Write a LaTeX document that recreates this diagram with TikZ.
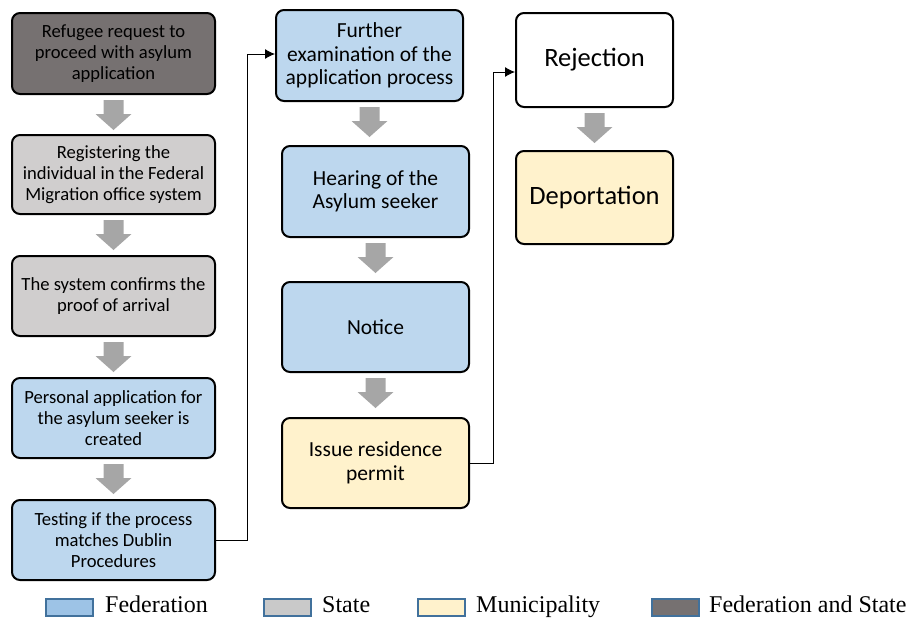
\documentclass[tikz,border=0pt]{standalone}
\usepackage{fontspec}
\setmainfont{Carlito}
\newfontfamily\legendfont{Liberation Serif}
\usetikzlibrary{arrows.meta,calc}

\definecolor{fedstate}{HTML}{767171}
\definecolor{stategray}{HTML}{D0CECE}
\definecolor{fedblue}{HTML}{BDD7EE}
\definecolor{muniyellow}{HTML}{FFF2CC}
\definecolor{flowgray}{HTML}{A6A6A6}
\definecolor{keyborder}{HTML}{41719C}
\definecolor{keyblue}{HTML}{9DC3E6}
\definecolor{keygray}{HTML}{C9C9C9}

\tikzset{
  procbox/.style={draw=black, line width=2pt, rounded corners=8pt,
    align=center, inner sep=2pt},
  colA/.style={procbox, minimum width=203pt, minimum height=80pt,
    font=\fontsize{18.6}{21}\selectfont},
  colB/.style={procbox, minimum width=187pt, minimum height=90pt,
    font=\fontsize{21.5}{23.5}\selectfont},
  colC/.style={procbox, minimum width=157pt, minimum height=93pt,
    font=\fontsize{26.5}{30}\selectfont},
  link/.style={draw=black, line width=1pt, -{Latex[length=10pt,width=10pt]}},
  keybox/.style={draw=keyborder, line width=2pt, minimum width=47pt,
    minimum height=17pt, inner sep=0pt},
  keytext/.style={anchor=base west, inner sep=0pt,
    font=\legendfont\fontsize{24}{27}\selectfont},
  pics/downblk/.style={code={
    \fill[flowgray] (-10,0) -- (10,0) -- (10,14) -- (18,14) -- (0,30)
      -- (-18,14) -- (-10,14) -- cycle;}}
}

\begin{document}
\begin{tikzpicture}[x=1pt, y=-1pt]
\useasboundingbox (0,0) rectangle (910,619);

% first column
\node[colA, fill=fedstate, minimum height=81pt] (b1) at (113.5,53.5)
  {Refugee request to\\proceed with asylum\\application};
\node[colA, fill=stategray, minimum height=79pt] (b2) at (113.5,174.5)
  {Registering the\\individual in the Federal\\Migration office system};
\node[colA, fill=stategray] (b3) at (113.5,296)
  {The system confirms the\\proof of arrival};
\node[colA, fill=fedblue] (b4) at (113.5,418)
  {Personal application for\\the asylum seeker is\\created};
\node[colA, fill=fedblue] (b5) at (113.5,540)
  {Testing if the process\\matches Dublin\\Procedures};

% second column
\node[colB, fill=fedblue, minimum height=91pt] (b6) at (369.5,55.5)
  {Further\\examination of the\\application process};
\node[colB, fill=fedblue, minimum height=91pt] (b7) at (375.5,191.5)
  {Hearing of the\\Asylum seeker};
\node[colB, fill=fedblue] (b8) at (375.5,327) {Notice};
\node[colB, fill=muniyellow] (b9) at (375.5,463)
  {Issue residence\\permit};

% third column
\node[colC, fill=white, minimum height=94pt] (b10) at (594.5,60) {Rejection};
\node[colC, fill=muniyellow] (b11) at (594.5,197.5) {Deportation};

% flow arrows between boxes
\foreach \a in {b1,b2,b3,b4,b6,b7,b8,b10}
  \pic at ($(\a.south)+(0,5)$) {downblk};

% branch connectors
\draw[link] (b5.east) -- ++(31,0) |- ([yshift=1.5pt]b6.west);
\draw[link] (b9.east) -- ++(23,0) |- ([yshift=-12pt]b10.west);

% legend
\node[keybox, fill=keyblue] (k1) at (69,607.5) {};
\node[keytext] (t1) at (105,612) {Federation};
\node[keybox, fill=keygray] (k2) at (287.5,607.5) {};
\node[keytext] (t2) at (322,612) {State};
\node[keybox, fill=muniyellow] (k3) at (441,607.5) {};
\node[keytext] (t3) at (476,612) {Municipality};
\node[keybox, fill=fedstate] (k4) at (675.5,607.5) {};
\node[keytext] (t4) at (709,612) {Federation and State};
\end{tikzpicture}
\end{document}
